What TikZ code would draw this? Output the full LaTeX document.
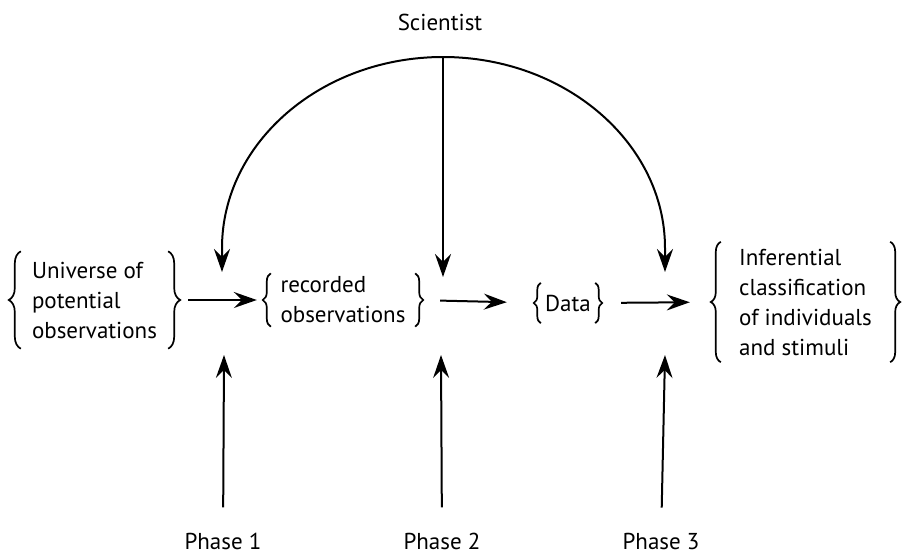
\documentclass[tikz,border=0pt]{standalone}
\usepackage{fontspec}
\setmainfont{PT Sans}
\usetikzlibrary{arrows.meta,decorations.pathreplacing}

\begin{document}
\begin{tikzpicture}[x=1pt,y=-1pt,
  lbl/.style={font=\fontsize{23}{30}\selectfont, inner sep=0pt},
  group/.style={lbl, align=left},
  curly/.style={decorate, decoration={brace, amplitude=#1}, line width=1.7pt},
  curly/.default=8pt,
  arr/.style={line width=2pt, -{Stealth[length=23pt,width=16pt,inset=8pt]}}
]
\useasboundingbox (0,0) rectangle (908,554);

% title and the three phase labels
\node[lbl] (sci) at (440,22) {Scientist};
\node[lbl] (ph1) at (223,541) {Phase 1};
\node[lbl] (ph2) at (442,541) {Phase 2};
\node[lbl] (ph3) at (661,541) {Phase 3};

% bracketed groups along the main row; the node edges carry the braces
\node[group, minimum width=147pt, minimum height=97pt] (univ) at (94.5,300)
  {Universe of\\potential\\observations};
\node[group, minimum width=144pt, minimum height=53pt] (rec) at (343,300)
  {recorded\\observations};
\node[group, minimum width=54pt, minimum height=40pt] (data) at (568,303)
  {Data};
\node[group, minimum width=169pt, minimum height=120pt] (inf) at (805.5,302)
  {Inferential\\classification\\of individuals\\and stimuli};

% braces round each group
\draw[curly=12pt] (univ.south west) -- (univ.north west);
\draw[curly=12pt] (univ.north east) -- (univ.south east);
\draw[curly=8pt] (rec.south west) -- (rec.north west);
\draw[curly=8pt] (rec.north east) -- (rec.south east);
\draw[curly=7pt] (data.south west) -- (data.north west);
\draw[curly=7pt] (data.north east) -- (data.south east);
\draw[curly=10pt] (inf.south west) -- (inf.north west);
\draw[curly=10pt] (inf.north east) -- (inf.south east);

% flow along the main row
\draw[arr, shorten <=20pt, shorten >=14pt] (univ.east) -- (rec.west);
\draw[arr, shorten <=25pt, shorten >=34pt] (rec.east) -- (data.west);
\draw[arr, shorten <=26pt, shorten >=31pt] (data.east) -- (inf.west);

% points the scientist and the phases act on
\coordinate (top) at (443,57);
\coordinate (sL) at (222,272);
\coordinate (sM) at (443,277);
\coordinate (sR) at (665,272);
\coordinate (pL) at (224,355);
\coordinate (pM) at (441,355);
\coordinate (pR) at (665,355);

% the scientist's arcs and central drop
\draw[arr] (top) .. controls (321,57) and (222,143) .. (222,248) -- (sL);
\draw[arr] (top) .. controls (565,57) and (665,143) .. (665,248) -- (sR);
\draw[arr] (top) -- (sM);

% phase arrows pointing up
\draw[arr, shorten <=25pt] (ph1) -- (pL);
\draw[arr, shorten <=25pt] (ph2) -- (pM);
\draw[arr, shorten <=25pt] (ph3) -- (pR);
\end{tikzpicture}
\end{document}
